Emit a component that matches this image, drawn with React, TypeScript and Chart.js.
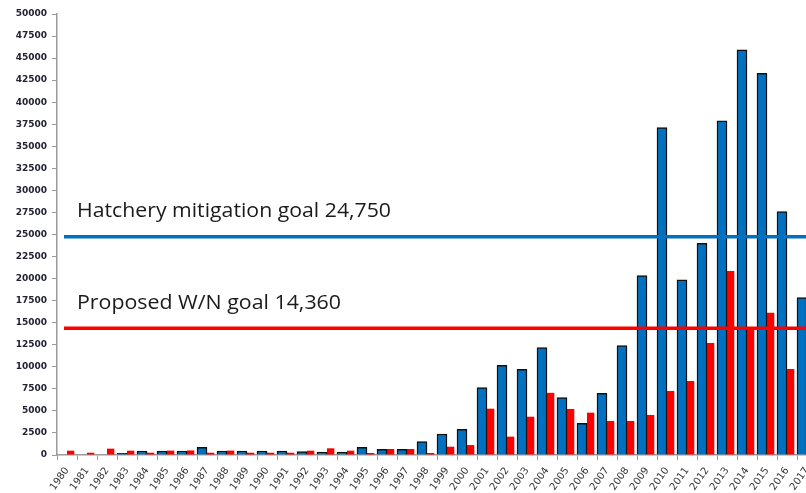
import React, { useEffect, useRef } from "react";
import { Chart, registerables } from "chart.js";

Chart.register(...registerables);

const years = [
  "1980", "1981", "1982", "1983", "1984", "1985", "1986", "1987", "1988", "1989",
  "1990", "1991", "1992", "1993", "1994", "1995", "1996", "1997", "1998", "1999",
  "2000", "2001", "2002", "2003", "2004", "2005", "2006", "2007", "2008", "2009",
  "2010", "2011", "2012", "2013", "2014", "2015", "2016", "2017",
];

const blueSeries = [
  0, 0, 0, 200, 450, 450, 450, 870, 450, 450,
  450, 450, 380, 340, 340, 870, 650, 650, 1510, 2380,
  2910, 7630, 10170, 9720, 12170, 6500, 3590, 7000, 12400, 20330,
  37120, 19850, 24000, 37880, 45930, 43280, 27590, 17840,
];

const redSeries = [
  490, 260, 720, 490, 260, 500, 520, 260, 500, 260,
  260, 260, 490, 760, 490, 230, 680, 680, 230, 940,
  1130, 5250, 2080, 4340, 7050, 5220, 4800, 3860, 3860, 4540,
  7260, 8390, 12700, 20870, 14500, 16140, 9750, 7000,
];

const yMin = 0;
const yMax = 50000;
const yStep = 2500;

const goalValues = [24750, 14360];
const goalLabels = ["Hatchery mitigation goal 24,750", "Proposed W/N goal 14,360"];
const goalColors = ["#0070C0", "#FF0000"];
const goalLabelWidths = [314, 264];

const goalPlugin = {
  id: "goalLines",
  afterDatasetsDraw(chart: any) {
    const { ctx, chartArea } = chart;
    const y = chart.scales.y;
    ctx.save();
    goalValues.forEach((v, i) => {
      const py = y.getPixelForValue(v);
      ctx.strokeStyle = goalColors[i];
      ctx.lineWidth = 3.5;
      ctx.beginPath();
      ctx.moveTo(chartArea.left + 7, py);
      ctx.lineTo(chart.width, py);
      ctx.stroke();

      ctx.font = '20px "Open Sans"';
      ctx.fillStyle = "#1a1a1a";
      ctx.textBaseline = "alphabetic";
      ctx.textAlign = "left";
      const natural = ctx.measureText(goalLabels[i]).width;
      const sx = goalLabelWidths[i] / natural;
      ctx.save();
      ctx.translate(chartArea.left + 20, py - 19.5);
      ctx.scale(sx, 1);
      ctx.fillText(goalLabels[i], 0, 0);
      ctx.restore();
    });
    ctx.restore();
  },
};

export default function App() {
  const canvasRef = useRef<HTMLCanvasElement | null>(null);

  useEffect(() => {
    const canvas = canvasRef.current;
    if (!canvas) return;
    const chart = new Chart(canvas, {
      type: "bar",
      data: {
        labels: years,
        datasets: [
          {
            label: "Blue",
            data: blueSeries,
            backgroundColor: "#0070C0",
            borderColor: "#111111",
            borderWidth: 1.5,
            categoryPercentage: 1.0,
            barPercentage: 1.0,
          },
          {
            label: "Red",
            data: redSeries,
            backgroundColor: "#FF0000",
            borderWidth: 0,
            categoryPercentage: 0.73,
            barPercentage: 1.0,
          },
        ],
      },
      options: {
        responsive: false,
        animation: false,
        devicePixelRatio: 1,
        layout: { padding: { left: 0, top: 14, right: 13, bottom: 0 } },
        plugins: {
          legend: { display: false },
          tooltip: { enabled: false },
        },
        scales: {
          x: {
            grid: {
              drawOnChartArea: false,
              drawTicks: true,
              tickLength: 5,
              color: "#9a9a9a",
              offset: true,
            },
            border: { display: true, color: "#9a9a9a", width: 1.5 },
            ticks: {
              autoSkip: false,
              minRotation: 55,
              maxRotation: 55,
              padding: 5,
              color: "#333333",
              font: { family: "DejaVu Sans", size: 10 },
            },
            afterFit(scale: any) {
              scale.height = 38;
            },
          },
          y: {
            min: yMin,
            max: yMax,
            grid: {
              drawOnChartArea: false,
              drawTicks: true,
              tickLength: 5,
              color: "#9a9a9a",
            },
            border: { display: true, color: "#9a9a9a", width: 1.5 },
            ticks: {
              stepSize: yStep,
              autoSkip: false,
              padding: 5,
              color: "#222233",
              font: { family: "DejaVu Sans", size: 9, weight: "bold" },
              callback: (v: any) => String(v),
            },
            afterFit(scale: any) {
              scale.width = 57;
            },
          },
        },
      },
      plugins: [goalPlugin],
    });
    return () => chart.destroy();
  }, []);

  return (
    <div
      style={{
        position: "fixed",
        left: 0,
        top: 0,
        width: 806,
        height: 493,
        overflow: "hidden",
        background: "#ffffff",
      }}
    >
      <canvas ref={canvasRef} width={830} height={493} style={{ width: 830, height: 493, display: "block" }} />
    </div>
  );
}
